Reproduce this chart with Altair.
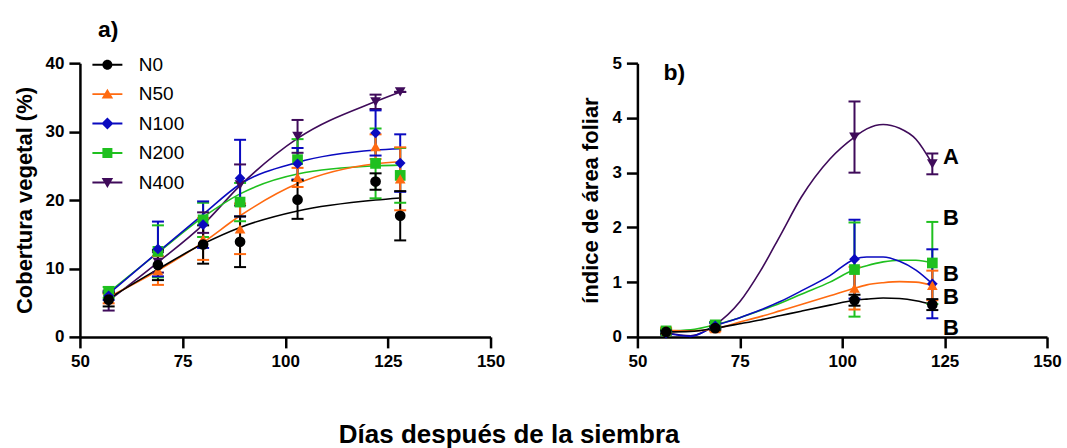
import altair as alt
import pandas as pd

# ---------------- data ----------------
series = ["N0", "N50", "N100", "N200", "N400"]
colors = ["#000000", "#FF6A10", "#0A0AC0", "#1FC01F", "#3F0B5A"]
shapes = ["circle", "triangle-up", "diamond", "square", "triangle-down"]
legend_paths = [
    "M-3,-0.2H3V0.2H-3ZM1,0A1,1,0,1,1,-1,0A1,1,0,1,1,1,0Z",
    "M-3,-0.2H3V0.2H-3ZM0,-1.1L1.15,0.9L-1.15,0.9Z",
    "M-3,-0.2H3V0.2H-3ZM0,-1.2L1.2,0L0,1.2L-1.2,0Z",
    "M-3,-0.2H3V0.2H-3ZM-1,-1H1V1H-1Z",
    "M-3,-0.2H3V0.2H-3ZM-1.15,-0.9L1.15,-0.9L0,1.1Z",
]

# panel a) cobertura vegetal
days_a = [57, 69, 80, 89, 103, 122, 128]
cover_mean = {
    "N0":   [5.45, 10.5, 13.5, 13.9, 20.05, 22.7, 17.7],
    "N50":  [5.6, 9.7, 14.3, 15.8, 23.3, 27.8, 23.1],
    "N100": [6.0, 12.85, 16.4, 23.2, 25.3, 29.8, 25.4],
    "N200": [6.5, 12.5, 17.1, 19.7, 25.9, 25.35, 23.6],
    "N400": [5.3, 10.9, 16.7, 22.2, 29.3, 34.35, 35.8],
}
cover_se = {
    "N0":   [1.0, 2.2, 2.8, 3.7, 2.8, 1.2, 3.6],
    "N50":  [0.7, 2.1, 3.05, 3.7, 1.4, 1.8, 4.6],
    "N100": [0.6, 4.0, 3.4, 5.6, 2.3, 3.3, 4.2],
    "N200": [0.8, 3.8, 2.5, 2.8, 3.0, 5.1, 4.0],
    "N400": [1.45, 1.5, 1.5, 3.0, 2.4, 1.05, 0.0],
}
cover_fit = {
    "N0":   [5.6, 9.9, 13.6, 16.0, 18.4, 20.0, 20.3],
    "N50":  [5.8, 9.7, 13.8, 17.7, 22.4, 25.3, 25.6],
    "N100": [6.3, 12.4, 17.9, 22.3, 25.5, 27.3, 27.5],
    "N200": [6.5, 12.3, 17.5, 20.9, 23.8, 25.0, 25.1],
    "N400": [5.3, 10.9, 16.4, 22.1, 29.0, 34.4, 35.8],
}

# panel b) indice de area foliar
days_b = [57, 69, 103, 122]
lai_mean = {
    "N0":   [0.09, 0.16, 0.67, 0.59],
    "N50":  [0.12, 0.15, 0.89, 0.94],
    "N100": [0.07, 0.20, 1.42, 0.97],
    "N200": [0.11, 0.22, 1.23, 1.35],
    "N400": [0.08, 0.22, 3.65, 3.16],
}
lai_se = {
    "N0":   [0.03, 0.03, 0.10, 0.10],
    "N50":  [0.05, 0.05, 0.39, 0.27],
    "N100": [0.03, 0.05, 0.72, 0.63],
    "N200": [0.04, 0.05, 0.86, 0.75],
    "N400": [0.03, 0.05, 0.65, 0.19],
}
# spline curves of panel b)
days_b_curve = [57, 63, 69, 75, 80, 85, 90, 97, 103, 106, 110, 114, 118, 122]
lai_curve = {
    "N0":   [0.09, 0.10, 0.16, 0.24, 0.31, 0.39, 0.47, 0.58, 0.67, 0.69, 0.71, 0.70, 0.66, 0.59],
    "N50":  [0.12, 0.11, 0.15, 0.27, 0.37, 0.48, 0.59, 0.75, 0.89, 0.95, 0.99, 1.01, 1.00, 0.94],
    "N100": [0.07, 0.01, 0.20, 0.35, 0.49, 0.65, 0.84, 1.12, 1.42, 1.46, 1.46, 1.38, 1.22, 0.97],
    "N200": [0.11, 0.13, 0.22, 0.35, 0.48, 0.62, 0.78, 1.00, 1.23, 1.30, 1.37, 1.40, 1.40, 1.35],
    "N400": [0.08, 0.02, 0.22, 0.64, 1.20, 1.87, 2.55, 3.25, 3.65, 3.80, 3.88, 3.81, 3.61, 3.16],
}
letters = ["A", "B", "B", "B", "B"]
letter_y = [3.28, 2.17, 1.14, 0.72, 0.16]
letter_x = [124.6, 124.6, 124.6, 124.6, 124.6]

FONT = "Liberation Sans"


def long_df(days, mean, se=None):
    rows = []
    for k, s in enumerate(series):
        for i, d in enumerate(days):
            r = {"day": d, "series": s, "z": len(series) - k, "mean": mean[s][i]}
            if se is not None:
                r["lo"] = mean[s][i] - se[s][i]
                r["hi"] = mean[s][i] + se[s][i]
            rows.append(r)
    df = pd.DataFrame(rows)
    return df.sort_values(["z", "day"]).reset_index(drop=True)


dfA = long_df(days_a, cover_mean, cover_se)
dfAc = long_df(days_a, cover_fit)
dfB = long_df(days_b, lai_mean, lai_se)
dfBc = long_df(days_b_curve, lai_curve)
dfL = pd.DataFrame({"lx": letter_x, "ly": letter_y, "letter": letters})

color_scale = alt.Scale(domain=series, range=colors)
xscale = alt.Scale(domain=[50, 150], nice=False)
xaxis = alt.Axis(values=[50, 75, 100, 125, 150], title=None, labelFlush=False)


def panel(df, dfc, ymax, yticks, ytitle, interp):
    x = alt.X("day:Q", scale=xscale, axis=xaxis)
    col = alt.Color("series:N", scale=color_scale, legend=None)
    yscale = alt.Scale(domain=[0, ymax], nice=False)
    layers = []
    layers.append(alt.Chart(dfc).mark_line(strokeWidth=1.6, interpolate=interp).encode(
        x=x,
        y=alt.Y("mean:Q", scale=yscale,
                axis=alt.Axis(values=yticks, title=ytitle, labelFlush=False)),
        color=col,
        detail="series:N",
    ))
    base = alt.Chart(df)
    layers.append(base.mark_rule(strokeWidth=2).encode(
        x=x, y=alt.Y("lo:Q", scale=yscale), y2="hi:Q", color=col))
    for fld in ["lo", "hi"]:
        layers.append(base.mark_tick(orient="horizontal", size=12, thickness=2, opacity=1).encode(
            x=x, y=alt.Y(fld + ":Q", scale=yscale), color=col))
    for k in reversed(range(len(series))):
        layers.append(base.transform_filter(alt.datum.series == series[k]).mark_point(
            filled=True, size=115, opacity=1, shape=shapes[k], color=colors[k]
        ).encode(x=x, y=alt.Y("mean:Q", scale=yscale)))
    return layers, yscale


layersA, ysA = panel(dfA, dfAc, 40, [0, 10, 20, 30, 40], "Cobertura vegetal (%)", "monotone")
legend_layer = alt.Chart(dfA).transform_filter("false").mark_point(
    filled=True, opacity=1, size=100
).encode(
    color=alt.Color("series:N", scale=color_scale, legend=alt.Legend(title=None)),
    shape=alt.Shape("series:N", scale=alt.Scale(domain=series, range=legend_paths),
                    legend=alt.Legend(title=None)),
)

chartA = alt.layer(*layersA, legend_layer).resolve_scale(
    color="independent", shape="independent"
).properties(
    width=411, height=274,
    title=alt.TitleParams("a)", anchor="start", frame="group", fontSize=23,
                          fontWeight="bold", font=FONT, dx=18, offset=12, color="black"),
)

layersB, ysB = panel(dfB, dfBc, 5, [0, 1, 2, 3, 4, 5], "índice de área foliar", "monotone")
txt = alt.Chart(dfL).mark_text(align="left", baseline="middle", fontSize=22,
                               fontWeight="bold", font=FONT, color="black").encode(
    x=alt.X("lx:Q", scale=xscale),
    y=alt.Y("ly:Q", scale=ysB),
    text="letter:N",
)
chartB = alt.layer(*layersB, txt).properties(
    width=410, height=274,
    title=alt.TitleParams("b)", anchor="start", frame="group", fontSize=23,
                          fontWeight="bold", font=FONT, dx=26, offset=0, baseline="top",
                          dy=31, color="black"),
)

chart = alt.hconcat(chartA, chartB, spacing=147, bounds="flush").properties(
    title=alt.TitleParams("Días después de la siembra", orient="bottom", anchor="middle",
                          fontSize=26, fontWeight="bold", font=FONT, color="black",
                          offset=52, dx=-28),
    padding={"left": 13, "top": 19, "right": 5, "bottom": 5},
).configure_view(stroke=None).configure_axis(
    domainColor="black", domainWidth=2.5, tickColor="black", tickWidth=2.5,
    tickSize=11, labelFont=FONT, labelFontSize=17, labelFontWeight="bold",
    labelColor="black", labelPadding=5, titleFont=FONT, titleFontSize=22,
    titleFontWeight="bold", titleColor="black", titlePadding=9, grid=False,
).configure_axisX(labelPadding=6).configure_legend(
    orient="none", legendX=18, legendY=-8, padding=0, symbolSize=100,
    symbolStrokeWidth=0, labelFont=FONT, labelFontSize=19, labelColor="black",
    labelOffset=22, rowPadding=9.5,
)

chart.save("out.html", embed_options={"renderer": "svg", "actions": False})
